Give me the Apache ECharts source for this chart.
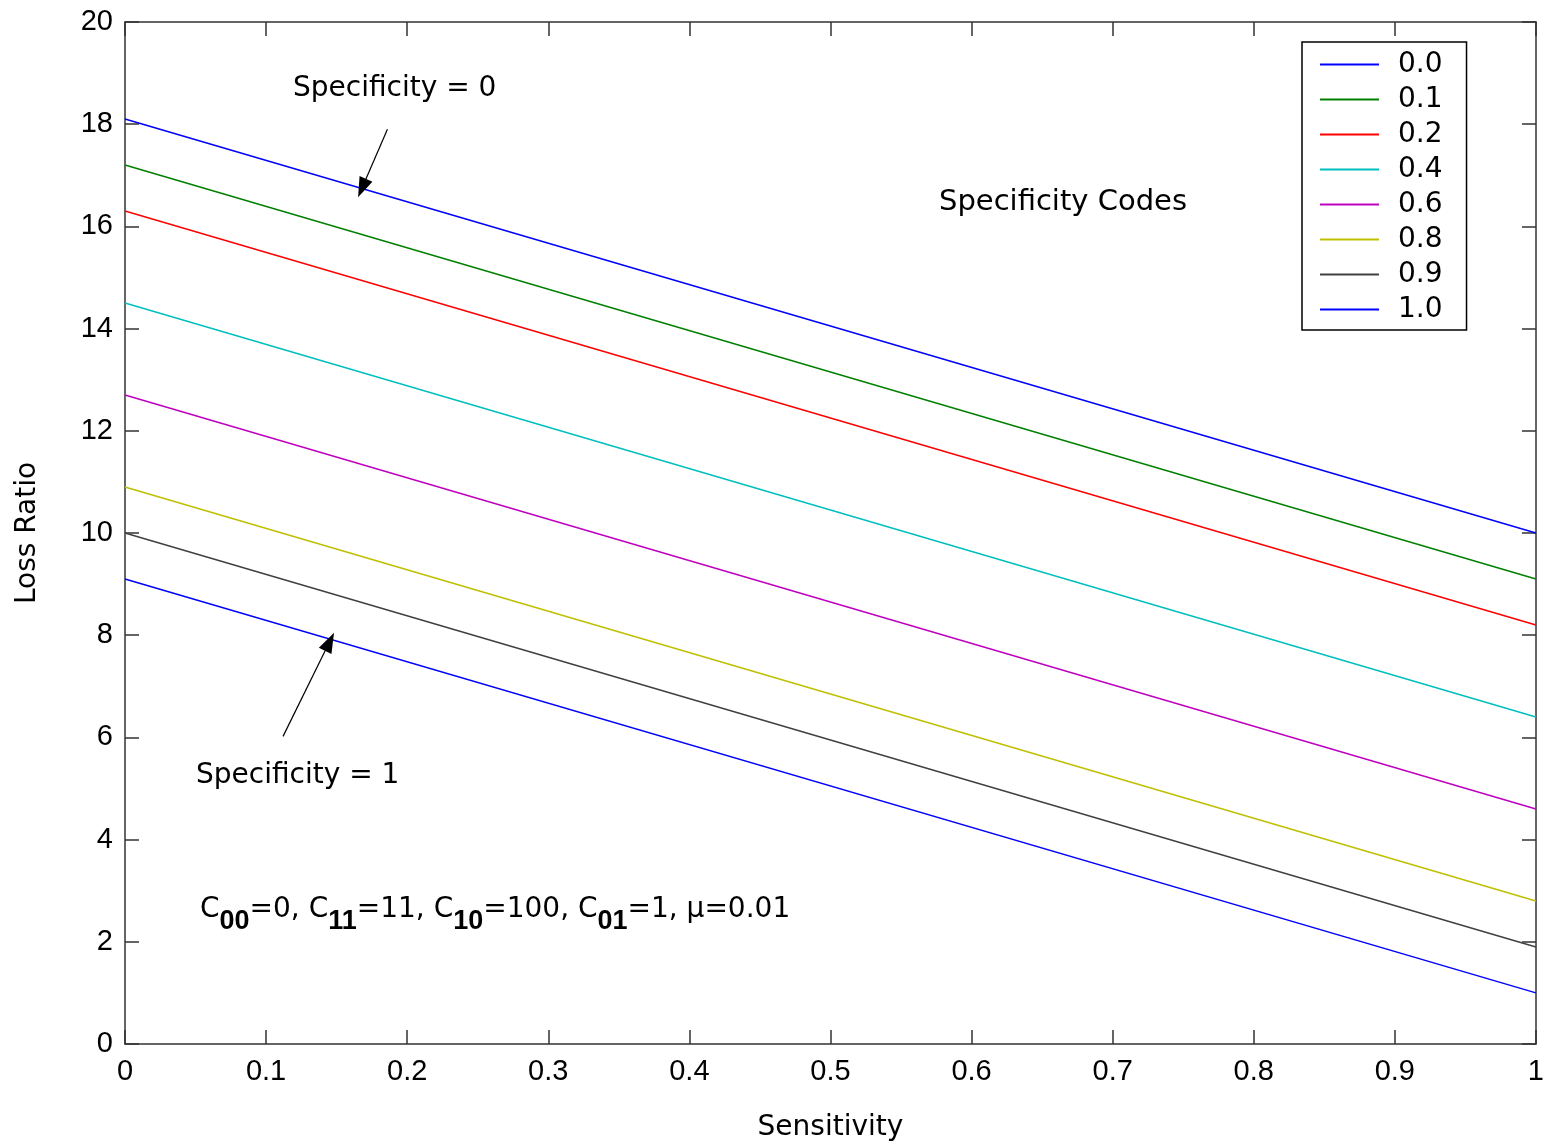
<!DOCTYPE html>
<html>
<head>
<meta charset="utf-8">
<script src="https://cdn.jsdelivr.net/npm/echarts@6/dist/echarts.min.js"></script>
<style>
  html, body { margin: 0; padding: 0; background: #fff; }
  #chart { width: 1547px; height: 1147px; }
</style>
</head>
<body>
<div id="chart"></div>
<script>
// sensitivity end points, loss ratio read at sensitivity 0 and 1
const sensitivity = [0, 1];
const codes = ['0.0', '0.1', '0.2', '0.4', '0.6', '0.8', '0.9', '1.0'];
const lossAtZero = [18.1, 17.2, 16.3, 14.5, 12.7, 10.9, 10.0, 9.1];
const lossAtOne = [10.0, 9.1, 8.2, 6.4, 4.6, 2.8, 1.9, 1.0];
const colors = ['#0000ff', '#008000', '#ff0000', '#00bfbf', '#bf00bf', '#bfbf00', '#404040', '#0000ff'];

// annotation arrows in data units [from, to]
const arrowSpec0 = [[0.186, 17.9], [0.168, 16.75]];
const arrowSpec1 = [[0.112, 6.02], [0.145, 7.87]];

const TICKFONT = '"Liberation Sans", Arial, sans-serif';
const FONT = '"DejaVu Sans", sans-serif';
const axisColor = '#333';

let chart = echarts.init(document.getElementById('chart'));

let series = codes.map(function (c, i) {
  let s = {
    name: c,
    type: 'line',
    symbol: 'none',
    data: [[sensitivity[0], lossAtZero[i]], [sensitivity[1], lossAtOne[i]]],
    lineStyle: { color: colors[i], width: 1.5 },
    itemStyle: { color: colors[i] },
    animation: false
  };
  if (i === 0) {
    s.markLine = {
      silent: true,
      symbol: ['none', 'triangle'],
      symbolSize: [14, 20],
      label: { show: false },
      lineStyle: { color: '#000', width: 1.2, type: 'solid' },
      data: [
        [{ coord: arrowSpec0[0] }, { coord: arrowSpec0[1] }],
        [{ coord: arrowSpec1[0] }, { coord: arrowSpec1[1] }]
      ]
    };
  }
  return s;
});

function valueAxis(extra) {
  return Object.assign({
    type: 'value',
    axisLine: { show: true, onZero: false, lineStyle: { color: axisColor, width: 1.5 } },
    axisTick: { show: true, inside: true, length: 14, lineStyle: { color: axisColor, width: 1.5 } },
    splitLine: { show: false },
    axisLabel: { color: '#000', fontSize: 29, fontFamily: TICKFONT }
  }, extra);
}

chart.setOption({
  backgroundColor: '#fff',
  animation: false,
  grid: { left: 125, right: 8, top: 22, bottom: 99 },
  legend: {
    orient: 'vertical',
    left: 1302,
    top: 42,
    padding: [5, 24, 3, 18],
    icon: 'rect',
    itemWidth: 59,
    itemHeight: 2,
    itemGap: 0,
    borderColor: '#000',
    borderWidth: 1.5,
    borderRadius: 0,
    textStyle: { color: '#000', fontSize: 28, fontFamily: FONT, lineHeight: 35, padding: [0, 0, 0, 14] },
    data: codes
  },
  xAxis: [
    valueAxis({
      min: 0, max: 1, interval: 0.1,
      axisLabel: { color: '#000', fontSize: 29, fontFamily: TICKFONT, margin: 13 },
      name: 'Sensitivity',
      nameLocation: 'middle',
      nameGap: 70,
      nameTextStyle: { color: '#000', fontSize: 28, fontFamily: FONT }
    }),
    valueAxis({ min: 0, max: 1, interval: 0.1, position: 'top', axisLabel: { show: false } })
  ],
  yAxis: [
    valueAxis({
      min: 0, max: 20, interval: 2,
      axisLabel: { color: '#000', fontSize: 29, fontFamily: TICKFONT, margin: 12 },
      name: 'Loss Ratio',
      nameLocation: 'middle',
      nameGap: 83,
      nameTextStyle: { color: '#000', fontSize: 28, fontFamily: FONT }
    }),
    valueAxis({ min: 0, max: 20, interval: 2, position: 'right', axisLabel: { show: false } })
  ],
  graphic: [
    {
      type: 'text', x: 293, y: 89,
      style: { text: 'Specificity = 0', fill: '#000', font: '28px ' + FONT, textVerticalAlign: 'middle' }
    },
    {
      type: 'text', x: 196, y: 776,
      style: { text: 'Specificity = 1', fill: '#000', font: '28px ' + FONT, textVerticalAlign: 'middle' }
    },
    {
      type: 'text', x: 939, y: 202,
      style: { text: 'Specificity Codes', fill: '#000', font: '29px ' + FONT, textVerticalAlign: 'middle' }
    },
    {
      type: 'text', x: 200, y: 896,
      style: {
        text: '{n|C}{s|00}{n|=0, C}{s|11}{n|=11, C}{s|10}{n|=100, C}{s|01}{n|=1, μ=0.01}',
        fill: '#000',
        rich: {
          n: { fontSize: 28, fontFamily: FONT, lineHeight: 28, verticalAlign: 'top', fill: '#000' },
          s: { fontSize: 27, fontFamily: TICKFONT, fontWeight: 'bold', lineHeight: 39, verticalAlign: 'bottom', fill: '#000' }
        }
      }
    }
  ],
  series: series
});
</script>
</body>
</html>
